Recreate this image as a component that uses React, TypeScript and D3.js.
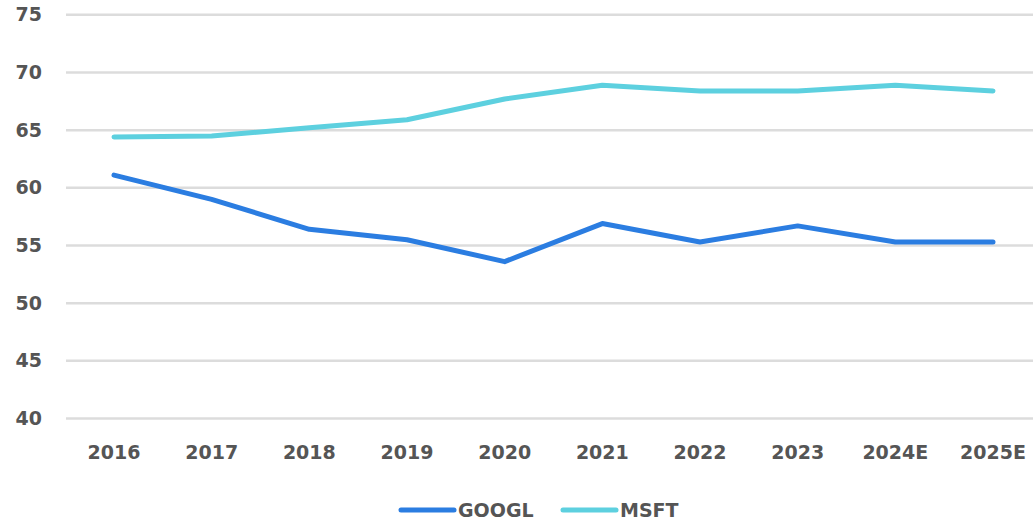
import React from 'react';
import * as d3 from 'd3';

const years = ['2016', '2017', '2018', '2019', '2020', '2021', '2022', '2023', '2024E', '2025E'];
const googl = [61.1, 59.0, 56.4, 55.5, 53.6, 56.9, 55.3, 56.7, 55.3, 55.3];
const msft = [64.4, 64.5, 65.2, 65.9, 67.7, 68.9, 68.4, 68.4, 68.9, 68.4];
const yTicks = [40, 45, 50, 55, 60, 65, 70, 75];

const seriesNames = ['GOOGL', 'MSFT'];
const seriesColors = ['#2b7de1', '#5dd0df'];

const width = 1033;
const height = 520;
const font = "'DejaVu Sans', sans-serif";

export default function App() {
  const x = d3.scalePoint<string>().domain(years).range([114, 993]);
  const y = d3.scaleLinear().domain([40, 75]).range([418.5, 14.8]);

  const line = d3
    .line<number>()
    .x((_, i) => x(years[i]) as number)
    .y((d) => y(d));

  const series = [googl, msft];

  return (
    <svg
      width={width}
      height={height}
      style={{ position: 'absolute', left: 0, top: 0 }}
    >
      <rect width={width} height={height} fill="#fff" />
      {yTicks.map((t) => (
        <g key={t}>
          <line x1={66} x2={width} y1={y(t)} y2={y(t)} stroke="#dcdcdc" strokeWidth={2.5} />
          <text
            x={42}
            y={y(t)}
            dy="0.35em"
            textAnchor="end"
            fontFamily={font}
            fontWeight="bold"
            fontSize={19}
            fill="#555"
          >
            {t}
          </text>
        </g>
      ))}
      {years.map((yr) => (
        <text
          key={yr}
          x={x(yr)}
          y={452}
          dy="0.35em"
          textAnchor="middle"
          fontFamily={font}
          fontWeight="bold"
          fontSize={19}
          fill="#555"
        >
          {yr}
        </text>
      ))}
      {series.map((s, i) => (
        <path
          key={seriesNames[i]}
          d={line(s) || ''}
          fill="none"
          stroke={seriesColors[i]}
          strokeWidth={5}
          strokeLinecap="round"
          strokeLinejoin="round"
        />
      ))}
      {seriesNames.map((name, i) => {
        const lx = 401 + i * 162;
        return (
          <g key={name}>
            <line x1={lx} x2={lx + 53} y1={510} y2={510} stroke={seriesColors[i]} strokeWidth={5} strokeLinecap="round" />
            <text
              x={lx + 57}
              y={510}
              dy="0.35em"
              fontFamily={font}
              fontWeight="bold"
              fontSize={19}
              fill="#555"
            >
              {name}
            </text>
          </g>
        );
      })}
    </svg>
  );
}
